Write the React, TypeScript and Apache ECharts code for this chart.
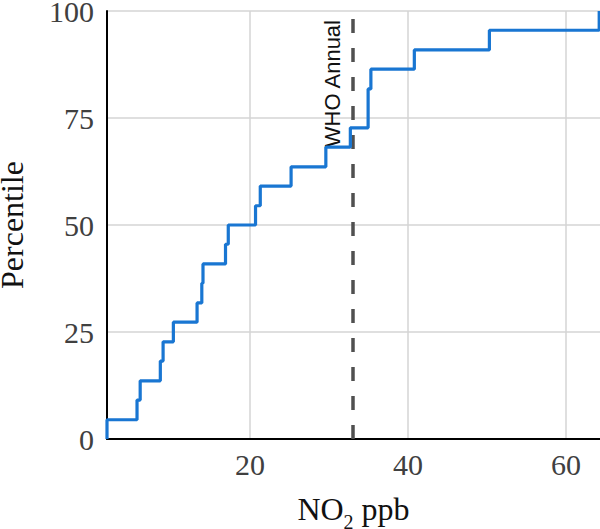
import React, { useEffect, useRef } from "react";
import * as echarts from "echarts";

// NO2 concentrations (ppb), sorted, one per station
const no2Values = [1.9, 5.7, 6.1, 8.65, 9.0, 10.3, 13.3, 13.9, 14.05, 16.9, 17.25, 20.7, 21.3, 25.2, 29.6, 32.7, 34.95, 34.95, 35.3, 40.8, 50.3, 64.2];
// cumulative percentile reached at each value
const percentiles = [4.5, 9.1, 13.6, 18.2, 22.7, 27.3, 31.8, 36.4, 40.9, 45.5, 50.0, 54.5, 59.1, 63.6, 68.2, 72.7, 77.3, 81.8, 86.4, 90.9, 95.5, 100.0];
const startPoint = [1.9, 0];
const xTicks = [20, 40, 60];
const yTicks = [0, 25, 50, 75, 100];
const whoAnnual = 33;
const xRange = [1.9, 64.3];

export default function App() {
  const ref = useRef<HTMLDivElement>(null);
  useEffect(() => {
    if (!ref.current) return;
    const chart = echarts.init(ref.current, null, { renderer: "svg" });
    const data = [startPoint, ...no2Values.map((v, i) => [v, percentiles[i]])];
    const serif = "'Liberation Serif', 'Times New Roman', serif";
    chart.setOption({
      animation: false,
      grid: { left: 107, right: 0, top: 11, bottom: 90, containLabel: false, outerBoundsMode: "none" },
      xAxis: {
        type: "value",
        min: xRange[0],
        max: xRange[1],
        name: "{n|NO}{sub|2}{n| ppb}",
        nameLocation: "middle",
        nameGap: 54,
        nameTextStyle: {
          fontFamily: serif,
          fontSize: 32,
          color: "#111",
          rich: {
            n: { fontFamily: serif, fontSize: 32, lineHeight: 32, verticalAlign: "top", color: "#111" },
            sub: { fontFamily: serif, fontSize: 20, lineHeight: 20, verticalAlign: "top", padding: [19, 0, 0, 0], color: "#111" },
          },
        },
        axisLine: { show: true, onZero: false, lineStyle: { color: "#000", width: 2 } },
        axisTick: { show: false, customValues: xTicks },
        axisLabel: {
          customValues: xTicks,
          fontFamily: serif,
          fontSize: 30,
          color: "#404040",
          margin: 10,
        },
        splitLine: { show: true, lineStyle: { color: "#d4d4d4", width: 1.5 } },
      },
      yAxis: {
        type: "value",
        min: 0,
        max: 100,
        interval: 25,
        name: "Percentile",
        nameLocation: "middle",
        nameGap: 79,
        nameTextStyle: { fontFamily: serif, fontSize: 32, color: "#111" },
        axisLine: { show: true, onZero: false, lineStyle: { color: "#000", width: 2 } },
        axisTick: { show: false },
        axisLabel: {
          fontFamily: serif,
          fontSize: 30,
          color: "#404040",
          margin: 13,
          customValues: yTicks,
        },
        splitLine: { show: true, lineStyle: { color: "#d4d4d4", width: 1.5 } },
      },
      series: [
        {
          type: "line",
          step: "end",
          data,
          symbol: "none",
          clip: false,
          lineStyle: { color: "#1976D2", width: 3.2 },
          z: 3,
          markLine: {
            silent: true,
            symbol: "none",
            z: 2,
            lineStyle: { color: "#505050", type: [14, 15], width: 3.5 },
            label: {
              show: true,
              position: "insideEndTop",
              formatter: "WHO Annual",
              fontFamily: "'Liberation Sans', Arial, sans-serif",
              fontSize: 22,
              color: "#111",
              distance: 9,
            },
            data: [{ xAxis: whoAnnual }],
          },
        },
      ],
    });
    return () => chart.dispose();
  }, []);
  return <div ref={ref} style={{ width: 600, height: 529, position: "absolute", left: 0, top: 0 }} />;
}
